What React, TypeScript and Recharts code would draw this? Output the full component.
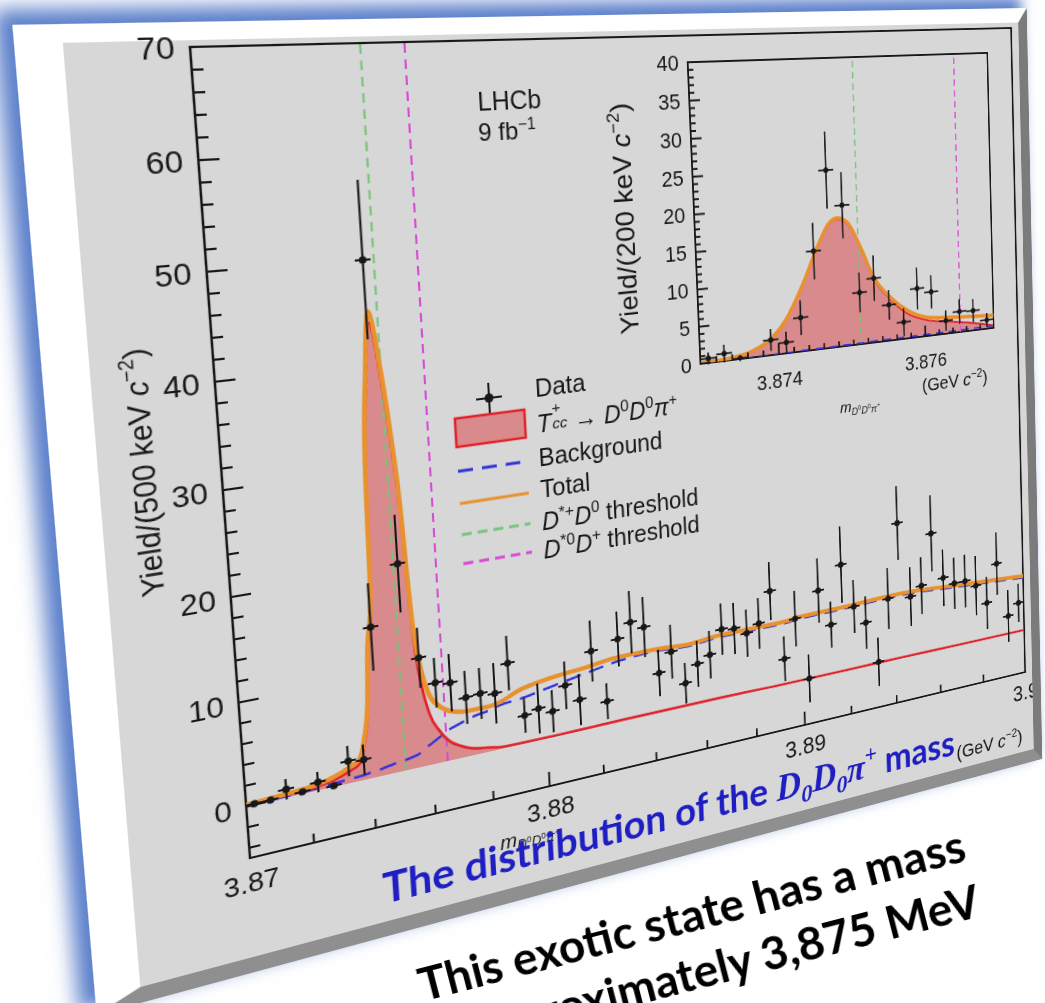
import React from 'react';
import {
  ComposedChart,
  Area,
  Line,
  Scatter,
  XAxis,
  YAxis,
  ErrorBar,
  ReferenceLine,
  ReferenceArea,
} from 'recharts';

// ---- main histogram, 500 keV bins ----
const MAIN_MASS = [
  3.87025, 3.87075, 3.87125, 3.87175, 3.87225, 3.87275, 3.87325, 3.87375, 3.87425, 3.87475,
  3.87525, 3.87575, 3.87625, 3.87675, 3.87725, 3.87775, 3.87825, 3.87875, 3.87925, 3.87975,
  3.88025, 3.88075, 3.88125, 3.88175, 3.88225, 3.88275, 3.88325, 3.88375, 3.88425, 3.88475,
  3.88525, 3.88575, 3.88625, 3.88675, 3.88725, 3.88775, 3.88825, 3.88875, 3.88925, 3.88975,
  3.89025, 3.89075, 3.89125, 3.89175, 3.89225, 3.89275, 3.89325, 3.89375, 3.89425, 3.89475,
  3.89525, 3.89575, 3.89625, 3.89675, 3.89725, 3.89775, 3.89825, 3.89875, 3.89925, 3.89975,
];
const MAIN_YIELD = [
  0.1, 0.1, 0.8, 0.2, 0.8, 0.1, 2.2, 2.0, 14.8, 49.9,
  20.5, 10.9, 8.1, 7.8, 6.0, 6.1, 5.8, 8.6, 2.9, 3.3,
  2.7, 5.1, 3.3, 8.1, 2.5, 8.8, 10.3, 9.5, 4.3, 6.3,
  2.6, 4.4, 5.1, 7.6, 7.4, 6.6, 7.4, 10.7, 2.9, 7.1,
  0.1, 9.7, 5.6, 12.1, 7.1, 5.0, 0.2, 7.2, 15.6, 6.9,
  7.9, 13.7, 8.3, 7.4, 7.4, 6.6, 4.3, 8.7, 2.2, 3.5,
];
const MAIN_ERR = [
  0.2, 0.2, 1.0, 0.3, 1.0, 0.3, 1.5, 1.5, 4.3, 7.5,
  4.8, 3.0, 2.5, 2.9, 2.7, 2.6, 3.1, 2.8, 1.8, 2.6,
  2.2, 2.5, 2.7, 3.2, 1.9, 2.9, 3.3, 3.2, 2.5, 2.9,
  2.2, 2.5, 2.6, 2.8, 2.8, 2.6, 2.8, 3.2, 2.5, 3.1,
  2.7, 3.6, 2.6, 4.3, 3.0, 3.0, 2.8, 3.5, 4.2, 3.4,
  3.3, 4.4, 3.3, 3.0, 3.1, 3.5, 3.1, 3.7, 3.1, 2.3,
];
const MAIN_BIN_HALF = 0.00025;

// fit curves of the main plot
const CURVE_MASS = [
  3.87, 3.871, 3.872, 3.8727, 3.8733, 3.8736, 3.8738, 3.874, 3.8741, 3.8743,
  3.8744, 3.8746, 3.8748, 3.8751, 3.8753, 3.87545, 3.87553, 3.8756, 3.8758, 3.876,
  3.8763, 3.8766, 3.877, 3.8773, 3.878, 3.8784, 3.8791, 3.8803, 3.8815, 3.8828,
  3.8841, 3.8854, 3.8867, 3.888, 3.8891, 3.89, 3.892, 3.8943, 3.897, 3.9,
];
const CURVE_TOTAL = [
  0.15, 0.3, 0.5, 0.9, 1.6, 2.1, 3.9, 7.8, 12.6, 17.4,
  29.7, 39.2, 45.0, 39.1, 32.6, 26.0, 19.5, 15.0, 9.7, 7.2,
  5.8, 5.1, 4.7, 4.6, 4.6, 4.8, 5.6, 6.2, 6.5, 6.9,
  6.9, 6.7, 7.0, 7.0, 7.0, 7.2, 7.3, 7.5, 7.1, 6.6,
];
const CURVE_SIGNAL = [
  0.15, 0.2, 0.3, 0.6, 1.2, 1.65, 3.4, 7.2, 11.9, 16.7,
  28.9, 38.3, 44.0, 38.0, 31.4, 24.7, 18.2, 13.6, 7.9, 5.1,
  3.2, 2.0, 1.2, 0.8, 0.4, 0.2, 0.15, 0.12, 0.15, 0.2,
  0.2, 0.2, 0.2, 0.15, 0.1, 0.1, 0.1, 0.12, 0.1, 0.1,
];
const CURVE_BKG = [
  0.0, 0.1, 0.2, 0.3, 0.4, 0.45, 0.5, 0.6, 0.65, 0.7,
  0.75, 0.85, 0.95, 1.05, 1.15, 1.25, 1.3, 1.4, 1.8, 2.1,
  2.6, 3.1, 3.5, 3.8, 4.2, 4.5, 4.7, 5.3, 5.9, 6.5,
  6.7, 6.5, 6.8, 6.8, 6.8, 7.0, 7.1, 7.3, 6.9, 6.4,
];

// ---- inset, 200 keV bins ----
const INSET_MASS = [
  3.8731, 3.8733, 3.8735, 3.8739, 3.8741, 3.8743, 3.8745, 3.8747, 3.8749, 3.8751,
  3.8753, 3.8755, 3.8757, 3.8759, 3.8761, 3.8763, 3.8765, 3.8767, 3.8769,
];
const INSET_YIELD = [
  0.6, 1.0, 0.1, 2.1, 1.5, 4.7, 13.7, 24.7, 19.7, 7.3,
  9.1, 5.1, 2.4, 7.0, 6.3, 1.9, 3.0, 2.9, 1.3,
];
const INSET_ERR = [
  0.8, 1.2, 0.4, 1.5, 1.5, 2.4, 3.9, 5.3, 4.6, 2.8,
  3.2, 2.1, 2.0, 3.0, 2.4, 1.5, 1.8, 1.7, 1.0,
];
const INSET_BIN_HALF = 0.0001;

const INSET_CURVE_MASS = [
  3.873, 3.8734, 3.87385, 3.8741, 3.87435, 3.87455, 3.87473, 3.87483, 3.87496,
  3.87513, 3.8753, 3.87552, 3.87575, 3.87603, 3.87636, 3.87669, 3.877,
];
const INSET_TOTAL = [0.1, 0.3, 1.85, 4.56, 9.42, 14.2, 17.5, 17.96, 17.3, 13.7, 9.26, 6.17, 4.05, 2.71, 2.32, 2.07, 1.87];
const INSET_SIGNAL = [0.08, 0.25, 1.75, 4.45, 9.3, 14.05, 17.35, 17.8, 17.1, 13.5, 9.0, 5.9, 3.6, 2.3, 1.7, 1.1, 0.4];
const INSET_BKG = [0, 0, 0.05, 0.05, 0.1, 0.1, 0.1, 0.15, 0.15, 0.15, 0.2, 0.2, 0.2, 0.25, 0.25, 0.3, 0.3];

// thresholds (GeV)
const DSTARP_D0 = 3.8751;
const DSTAR0_DP = 3.87651;

// ---- ticks ----
const MAIN_X_TICKS = [3.87, 3.872, 3.874, 3.876, 3.878, 3.88, 3.882, 3.884, 3.886, 3.888, 3.89, 3.892, 3.894, 3.896, 3.898, 3.9];
const MAIN_X_LABELED = [3.87, 3.88, 3.89, 3.9];
const MAIN_Y_TICKS = [
  -4, -2, 0, 2, 4, 6, 8, 10, 12, 14, 16, 18, 20, 22, 24, 26, 28, 30, 32,
  34, 36, 38, 40, 42, 44, 46, 48, 50, 52, 54, 56, 58, 60, 62, 64, 66, 68, 70,
];
const MAIN_Y_LABELED = [0, 10, 20, 30, 40, 50, 60, 70];
const INSET_X_TICKS = [
  3.873, 3.8732, 3.8734, 3.8736, 3.8738, 3.874, 3.8742, 3.8744, 3.8746, 3.8748, 3.875,
  3.8752, 3.8754, 3.8756, 3.8758, 3.876, 3.8762, 3.8764, 3.8766, 3.8768, 3.877,
];
const INSET_X_LABELED = [3.874, 3.876];
const INSET_Y_TICKS = [
  0, 1, 2, 3, 4, 5, 6, 7, 8, 9, 10, 11, 12, 13, 14, 15, 16, 17, 18, 19, 20,
  21, 22, 23, 24, 25, 26, 27, 28, 29, 30, 31, 32, 33, 34, 35, 36, 37, 38, 39, 40,
];
const INSET_Y_LABELED = [0, 5, 10, 15, 20, 25, 30, 35, 40];

// ---- layout of the flat slide (before the 3D tilt) ----
const PX = 103; // plot frame inside the grey face
const PY = 6;
const PW = 880;
const PH = 750;
const FACE_W = 993;
const FACE_H = 852;
const B_L = 38;
const B_T = 16;
const B_R = 12;
const B_B = 15;
const HEADROOM = 24; // lets the "70" label spill over the top edge
// where the four plot-frame corners land on the page
const FRAME_ON_PAGE: [number, number][] = [[190, 47], [1011, 28], [250, 858], [1025, 672]];

const INSET_L = 480;
const INSET_T = 27;
const INSET_W = 367;
const INSET_H = 311;

const PLOT_FONT = '"Liberation Sans", Arial, Helvetica, sans-serif';
const SLIDE_FONT = 'Lato, "Open Sans", sans-serif';
const INK = '#181818';
const ORANGE = '#e8912e';
const RED = '#e0232a';
const PINK = '#d98a8c';
const BLUE = '#3434d6';
const GREEN = '#78c478';
const MAGENTA = '#d64ad6';

function solveLinear(A: number[][], b: number[]): number[] {
  const n = b.length;
  const M = A.map((row, i) => [...row, b[i]]);
  for (let c = 0; c < n; c++) {
    let p = c;
    for (let r = c + 1; r < n; r++) if (Math.abs(M[r][c]) > Math.abs(M[p][c])) p = r;
    [M[c], M[p]] = [M[p], M[c]];
    for (let r = 0; r < n; r++) {
      if (r === c) continue;
      const f = M[r][c] / M[c][c];
      for (let k = c; k <= n; k++) M[r][k] -= f * M[c][k];
    }
  }
  return M.map((row, i) => row[n] / row[i]);
}

// CSS matrix3d that maps four flat points onto four page points
function homography(src: [number, number][], dst: [number, number][]) {
  const A: number[][] = [];
  const b: number[] = [];
  for (let i = 0; i < 4; i++) {
    const [x, y] = src[i];
    const [X, Y] = dst[i];
    A.push([x, y, 1, 0, 0, 0, -x * X, -y * X]);
    b.push(X);
    A.push([0, 0, 0, x, y, 1, -x * Y, -y * Y]);
    b.push(Y);
  }
  const h = solveLinear(A, b);
  return `matrix3d(${h[0]},${h[3]},0,${h[6]},${h[1]},${h[4]},0,${h[7]},0,0,1,0,${h[2]},${h[5]},0,1)`;
}

const near = (v: number, list: number[]) => list.some((l) => Math.abs(l - v) < 1e-7);

function yTick(labeled: number[], fontSize: number, majorLen: number, minorLen: number, gap: number) {
  return (props: any) => {
    const { x, y, payload } = props;
    const major = near(payload.value, labeled);
    return (
      <g>
        <line x1={x} y1={y} x2={x + (major ? majorLen : minorLen)} y2={y} stroke={INK} strokeWidth={2} />
        {major && (
          <text x={x - gap} y={y} dy="0.36em" textAnchor="end" fontSize={fontSize} fontFamily={PLOT_FONT} fill={INK}>
            {String(payload.value)}
          </text>
        )}
      </g>
    );
  };
}

function xTick(labeled: number[], fontSize: number, majorLen: number, minorLen: number, drop: number) {
  return (props: any) => {
    const { x, y, payload } = props;
    const major = near(payload.value, labeled);
    return (
      <g>
        <line x1={x} y1={y} x2={x} y2={y - (major ? majorLen : minorLen)} stroke={INK} strokeWidth={2} />
        {major && (
          <text x={x} y={y + drop} textAnchor="middle" fontSize={fontSize} fontFamily={PLOT_FONT} fill={INK}>
            {String(payload.value)}
          </text>
        )}
      </g>
    );
  };
}

const dataDot = (r: number) => (p: any) => <circle cx={p.cx} cy={p.cy} r={r} fill={INK} />;

const Sup = ({ children }: { children: React.ReactNode }) => (
  <span style={{ fontSize: '0.66em', position: 'relative', top: '-0.6em' }}>{children}</span>
);
const Sub = ({ children }: { children: React.ReactNode }) => (
  <span style={{ fontSize: '0.66em', position: 'relative', top: '0.32em' }}>{children}</span>
);

// text placed in plot-frame coordinates of the flat slide
function At({
  x, y, anchor = 'center', rotate = 0, style, children,
}: {
  x: number; y: number; anchor?: 'left' | 'center' | 'right'; rotate?: number;
  style?: React.CSSProperties; children: React.ReactNode;
}) {
  const tx = anchor === 'left' ? '0' : anchor === 'right' ? '-100%' : '-50%';
  return (
    <div
      style={{
        position: 'absolute',
        left: PX + x,
        top: PY + y,
        transform: `translate(${tx}, -50%) rotate(${rotate}deg)`,
        whiteSpace: 'nowrap',
        lineHeight: 1,
        fontFamily: PLOT_FONT,
        color: INK,
        ...style,
      }}
    >
      {children}
    </div>
  );
}

function MainPlot() {
  const curves = CURVE_MASS.map((m, i) => ({ m, total: CURVE_TOTAL[i], sig: CURVE_SIGNAL[i], bkg: CURVE_BKG[i] }));
  const points = MAIN_MASS.map((m, i) => ({ m, y: MAIN_YIELD[i], ey: MAIN_ERR[i], ex: MAIN_BIN_HALF }));
  return (
    <div style={{ position: 'absolute', left: 0, top: -HEADROOM }}>
      <ComposedChart
        width={FACE_W}
        height={FACE_H + HEADROOM}
        data={curves}
        margin={{ top: PY + HEADROOM, left: PX - 1, right: FACE_W - PX - PW, bottom: FACE_H - PY - PH - 1 }}
      >
        <XAxis
          dataKey="m" type="number" domain={[3.87, 3.9]} ticks={MAIN_X_TICKS} interval={0} height={1}
          allowDataOverflow axisLine={false} tickLine={false} tickSize={0} tickMargin={0}
          tick={xTick(MAIN_X_LABELED, 26, 15, 9, 33)}
        />
        <YAxis
          type="number" domain={[-5, 70]} ticks={MAIN_Y_TICKS} interval={0} width={1}
          allowDataOverflow axisLine={false} tickLine={false} tickSize={0} tickMargin={0}
          tick={yTick(MAIN_Y_LABELED, 28, 18, 10, 13)}
        />
        <Area dataKey="sig" type="monotone" baseValue={0} fill={PINK} fillOpacity={1} stroke="none" isAnimationActive={false} />
        <ReferenceLine segment={[{ x: DSTARP_D0, y: 0 }, { x: DSTARP_D0, y: 70 }]} stroke={GREEN} strokeWidth={2} strokeDasharray="9 6" />
        <ReferenceLine segment={[{ x: DSTAR0_DP, y: 0 }, { x: DSTAR0_DP, y: 70 }]} stroke={MAGENTA} strokeWidth={2} strokeDasharray="9 6" />
        <Line dataKey="bkg" type="monotone" stroke={BLUE} strokeWidth={2.5} strokeDasharray="16 9" dot={false} activeDot={false} isAnimationActive={false} />
        <Line dataKey="sig" type="monotone" stroke={RED} strokeWidth={2.6} dot={false} activeDot={false} isAnimationActive={false} />
        <Line dataKey="total" type="monotone" stroke={ORANGE} strokeWidth={4.5} dot={false} activeDot={false} isAnimationActive={false} />
        <Scatter data={points} dataKey="y" shape={dataDot(3.6)} isAnimationActive={false}>
          <ErrorBar dataKey="ey" direction="y" width={0} stroke={INK} strokeWidth={2} />
          <ErrorBar dataKey="ex" direction="x" width={0} stroke={INK} strokeWidth={2} />
        </Scatter>
        <ReferenceArea x1={3.87} x2={3.9} y1={-5} y2={70} fill="none" stroke={INK} strokeWidth={2.2} ifOverflow="visible" />
      </ComposedChart>
    </div>
  );
}

function InsetPlot() {
  const curves = INSET_CURVE_MASS.map((m, i) => ({ m, total: INSET_TOTAL[i], sig: INSET_SIGNAL[i], bkg: INSET_BKG[i] }));
  const points = INSET_MASS.map((m, i) => ({ m, y: INSET_YIELD[i], ey: INSET_ERR[i], ex: INSET_BIN_HALF }));
  const ml = 50;
  const mt = 14;
  return (
    <div style={{ position: 'absolute', left: PX + INSET_L - ml, top: PY + INSET_T - mt }}>
      <ComposedChart
        width={ml + INSET_W + 8}
        height={mt + INSET_H + 60}
        data={curves}
        margin={{ top: mt, left: ml - 1, right: 8, bottom: 59 }}
      >
        <XAxis
          dataKey="m" type="number" domain={[3.873, 3.877]} ticks={INSET_X_TICKS} interval={0} height={1}
          allowDataOverflow axisLine={false} tickLine={false} tickSize={0} tickMargin={0}
          tick={xTick(INSET_X_LABELED, 22, 12, 6, 36)}
        />
        <YAxis
          type="number" domain={[0, 40]} ticks={INSET_Y_TICKS} interval={0} width={1}
          allowDataOverflow axisLine={false} tickLine={false} tickSize={0} tickMargin={0}
          tick={yTick(INSET_Y_LABELED, 22, 12, 6, 10)}
        />
        <Area dataKey="sig" type="monotone" baseValue={0} fill={PINK} fillOpacity={1} stroke="none" isAnimationActive={false} />
        <ReferenceLine segment={[{ x: DSTARP_D0, y: 0 }, { x: DSTARP_D0, y: 40 }]} stroke={GREEN} strokeWidth={1.6} strokeDasharray="7 5" />
        <ReferenceLine segment={[{ x: DSTAR0_DP, y: 0 }, { x: DSTAR0_DP, y: 40 }]} stroke={MAGENTA} strokeWidth={1.6} strokeDasharray="7 5" />
        <Line dataKey="bkg" type="monotone" stroke={BLUE} strokeWidth={1.8} strokeDasharray="10 7" dot={false} activeDot={false} isAnimationActive={false} />
        <Line dataKey="sig" type="monotone" stroke={RED} strokeWidth={2} dot={false} activeDot={false} isAnimationActive={false} />
        <Line dataKey="total" type="monotone" stroke={ORANGE} strokeWidth={4} dot={false} activeDot={false} isAnimationActive={false} />
        <Scatter data={points} dataKey="y" shape={dataDot(3)} isAnimationActive={false}>
          <ErrorBar dataKey="ey" direction="y" width={0} stroke={INK} strokeWidth={1.8} />
          <ErrorBar dataKey="ex" direction="x" width={0} stroke={INK} strokeWidth={1.8} />
        </Scatter>
        <ReferenceArea x1={3.873} x2={3.877} y1={0} y2={40} fill="none" stroke={INK} strokeWidth={2} ifOverflow="visible" />
      </ComposedChart>
    </div>
  );
}

// legend rows, plot coordinates
const LEG_X0 = 218;
const LEG_X1 = 288;
const LEG_TEXT = 300;
const LEG_ROWS = [346, 376, 414, 446, 477, 506];

function Legend() {
  const [rData, rSig, rBkg, rTot, rG, rM] = LEG_ROWS;
  const cx = (LEG_X0 + LEG_X1) / 2;
  const fs = 25;
  return (
    <>
      <svg width={FACE_W} height={FACE_H} style={{ position: 'absolute', left: 0, top: 0, overflow: 'visible' }}>
        <g transform={`translate(${PX},${PY})`}>
          <line x1={cx - 13} x2={cx + 13} y1={rData} y2={rData} stroke={INK} strokeWidth={2} />
          <line x1={cx} x2={cx} y1={rData - 15} y2={rData + 15} stroke={INK} strokeWidth={2} />
          <circle cx={cx} cy={rData} r={4.5} fill={INK} />
          <rect x={LEG_X0} y={rSig - 14} width={LEG_X1 - LEG_X0} height={28} fill={PINK} stroke={RED} strokeWidth={2.5} />
          <line x1={LEG_X0} x2={LEG_X1} y1={rBkg} y2={rBkg} stroke={BLUE} strokeWidth={3} strokeDasharray="15 9" />
          <line x1={LEG_X0} x2={LEG_X1} y1={rTot} y2={rTot} stroke={ORANGE} strokeWidth={3} />
          <line x1={LEG_X0} x2={LEG_X1} y1={rG} y2={rG} stroke={GREEN} strokeWidth={3} strokeDasharray="10 6" />
          <line x1={LEG_X0} x2={LEG_X1} y1={rM} y2={rM} stroke={MAGENTA} strokeWidth={3} strokeDasharray="10 6" />
        </g>
      </svg>
      <At x={LEG_TEXT} y={rData - 4} anchor="left" style={{ fontSize: fs }}>Data</At>
      <At x={LEG_TEXT} y={rSig} anchor="left" style={{ fontSize: fs }}>
        <i>T</i>
        <span style={{ position: 'relative', display: 'inline-block', width: '0.95em', height: '1em' }}>
          <span style={{ position: 'absolute', left: 1, top: '-0.42em', fontSize: '0.62em' }}>+</span>
          <i style={{ position: 'absolute', left: 1, top: '0.62em', fontSize: '0.62em' }}>cc</i>
        </span>
        {'→ '}
        <i>D</i><Sup>0</Sup><i>D</i><Sup>0</Sup><i>π</i><Sup>+</Sup>
      </At>
      <At x={LEG_TEXT} y={rBkg - 2} anchor="left" style={{ fontSize: fs }}>Background</At>
      <At x={LEG_TEXT} y={rTot - 2} anchor="left" style={{ fontSize: fs }}>Total</At>
      <At x={LEG_TEXT} y={rG} anchor="left" style={{ fontSize: fs }}>
        <i>D</i><Sup>*+</Sup><i>D</i><Sup>0</Sup> threshold
      </At>
      <At x={LEG_TEXT} y={rM} anchor="left" style={{ fontSize: fs }}>
        <i>D</i><Sup>*0</Sup><i>D</i><Sup>+</Sup> threshold
      </At>
    </>
  );
}

function Slide() {
  return (
    <div
      style={{
        position: 'absolute',
        left: 0,
        top: 0,
        width: FACE_W,
        height: FACE_H,
        background: '#d7d7d7',
        borderLeft: `${B_L}px solid #ffffff`,
        borderTop: `${B_T}px solid #ffffff`,
        borderRight: `${B_R}px solid #7b7b7b`,
        borderBottom: `${B_B}px solid #8f8f8f`,
        boxShadow: '-11px -10px 16px 3px rgba(72, 112, 196, 0.9)',
        transformOrigin: '0 0',
        transform: homography(
          [
            [B_L + PX, B_T + PY],
            [B_L + PX + PW, B_T + PY],
            [B_L + PX, B_T + PY + PH],
            [B_L + PX + PW, B_T + PY + PH],
          ],
          FRAME_ON_PAGE,
        ),
      }}
    >
      <MainPlot />
      <InsetPlot />
      <Legend />

      <At x={290} y={58} style={{ fontSize: 25 }}>LHCb</At>
      <At x={286} y={88} style={{ fontSize: 24 }}>
        9 fb<Sup>−1</Sup>
      </At>

      <At x={-65} y={375} rotate={-90} style={{ fontSize: 27 }}>
        Yield/(500 keV <i>c</i><Sup>−2</Sup>)
      </At>
      <At x={404} y={182} rotate={-90} style={{ fontSize: 28 }}>
        Yield/(200 keV <i>c</i><Sup>−2</Sup>)
      </At>

      <At x={270} y={796} style={{ fontSize: 21 }}>
        <i>m</i>
        <Sub>
          <i>D</i><Sup>0</Sup><i>D</i><Sup>0</Sup><i>π</i><Sup>+</Sup>
        </Sub>
      </At>
      <At x={828} y={827} style={{ fontSize: 22 }}>
        (GeV <i>c</i><Sup>−2</Sup>)
      </At>
      <At x={669} y={405} style={{ fontSize: 17 }}>
        <i>m</i>
        <Sub>
          <i>D</i><Sup>0</Sup><i>D</i><Sup>0</Sup><i>π</i><Sup>+</Sup>
        </Sub>
      </At>
      <At x={793} y={392} style={{ fontSize: 21 }}>
        (GeV <i>c</i><Sup>−2</Sup>)
      </At>

      <At x={120} y={813} anchor="left" style={{ fontSize: 42, fontFamily: SLIDE_FONT, fontWeight: 700, color: '#1e1ec2' }}>
        The distribution of the{' '}
        <span style={{ fontFamily: '"Liberation Serif", "DejaVu Serif", serif', fontStyle: 'italic' }}>
          D<Sub>0</Sub>D<Sub>0</Sub>π<Sup>+</Sup>
        </span>{' '}
        mass
      </At>
    </div>
  );
}

export default function App() {
  return (
    <div
      style={{
        position: 'fixed',
        left: 0,
        top: 0,
        width: 1045,
        height: 1003,
        overflow: 'hidden',
        background: '#ffffff',
      }}
    >
      <Slide />
      <div
        style={{
          position: 'absolute',
          right: 1045 - 957,
          top: 816,
          transformOrigin: '100% 0',
          transform: 'rotate(-14.5deg)',
          fontFamily: SLIDE_FONT,
          fontWeight: 700,
          fontSize: 46,
          lineHeight: '57px',
          textAlign: 'right',
          color: '#000',
          whiteSpace: 'nowrap',
        }}
      >
        This exotic state has a mass
        <br />
        approximately 3,875 MeV
      </div>
    </div>
  );
}
